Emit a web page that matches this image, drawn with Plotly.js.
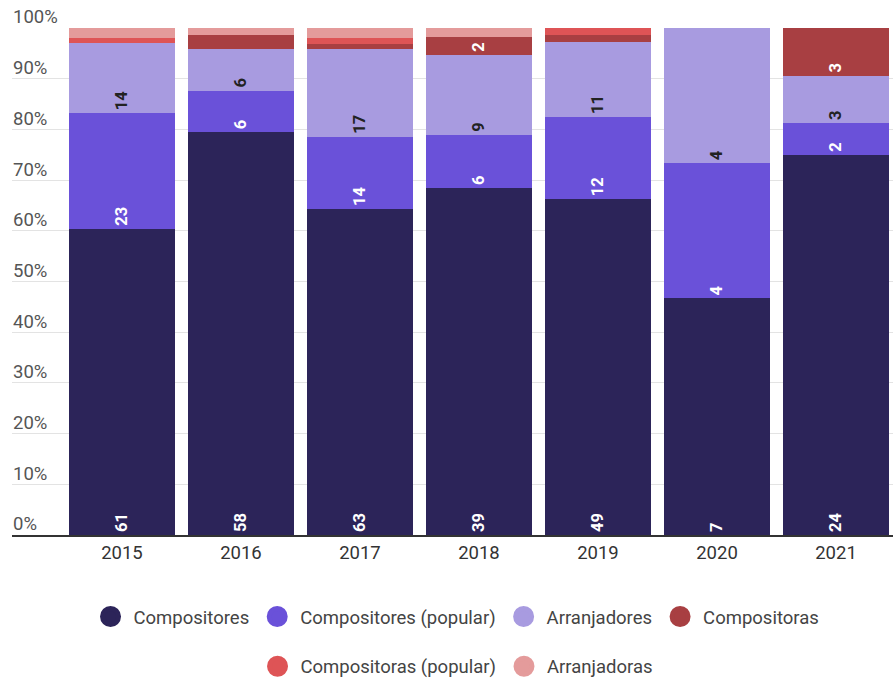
<!DOCTYPE html>
<html>
<head>
<meta charset="utf-8">
<script src="https://cdn.plot.ly/plotly-3.0.1.min.js"></script>
<style>html,body{margin:0;padding:0;background:#fff;}#chart{width:893px;height:681px;}</style>
</head>
<body>
<div id="chart"></div>
<script>
const years = ['2015','2016','2017','2018','2019','2020','2021'];
const seriesNames = ['Compositores','Compositores (popular)','Arranjadores','Compositoras','Compositoras (popular)','Arranjadoras'];
const compositores = [61,58,63,39,49,7,24];
const compositoresPopular = [23,6,14,6,12,4,2];
const arranjadores = [14,6,17,9,11,4,3];
const compositoras = [0,2,1,2,1,0,3];
const compositorasPopular = [1,0,1,0,1,0,0];
const arranjadoras = [2,1,2,1,0,0,0];
const yTicks = [0,10,20,30,40,50,60,70,80,90,100];

const colors = ['#2c2459','#6a51d9','#a89be0','#a83f42','#de5456','#e49b9b'];
const textColors = ['#ffffff','#ffffff','#222222','#ffffff','#ffffff','#222222'];
const series = [compositores, compositoresPopular, arranjadores, compositoras, compositorasPopular, arranjadoras];
const totals = years.map((_, i) => series.reduce((s, arr) => s + arr[i], 0));

const traces = [];
series.forEach((vals, k) => {
  traces.push({
    type: 'bar',
    x: years,
    y: vals,
    name: seriesNames[k],
    marker: {color: colors[k]},
    text: vals.map((v, i) => (v > 0 && v / totals[i] >= 0.03) ? String(v) : ''),
    textposition: 'inside',
    insidetextanchor: 'start',
    textangle: -90,
    constraintext: 'none',
    insidetextfont: {family: 'Roboto', size: 16.5, color: textColors[k], weight: 'bold'},
    showlegend: false,
    hoverinfo: 'skip'
  });
});
series.forEach((vals, k) => {
  traces.push({
    type: 'scatter',
    mode: 'markers',
    x: [years[0]],
    y: [null],
    name: seriesNames[k],
    marker: {color: colors[k], size: 16, symbol: 'circle', line: {color: colors[k], width: 5}},
    showlegend: true,
    legend: k < 4 ? 'legend' : 'legend2',
    hoverinfo: 'skip'
  });
});

const legendBase = {
  orientation: 'h', xanchor: 'center', x: 0.504, yanchor: 'middle', yref: 'container',
  itemwidth: 36,
  font: {family: 'Roboto', size: 18.5, color: '#444'},
  bgcolor: 'rgba(0,0,0,0)', traceorder: 'normal', itemclick: false
};

const layout = {
  width: 893, height: 681,
  margin: {l: 12, r: 0, t: 28, b: 146},
  paper_bgcolor: '#fff', plot_bgcolor: '#fff',
  barmode: 'stack', barnorm: 'percent', bargap: 0.11,
  font: {family: 'Roboto'},
  xaxis: {
    type: 'category', range: [-0.924, 6.479], fixedrange: true,
    showgrid: false, showline: true, linecolor: '#333', linewidth: 2,
    ticks: '', tickfont: {family: 'Roboto', size: 18.5, color: '#333'}
  },
  yaxis: {
    range: [0, 100], tickvals: yTicks, ticktext: yTicks.map(v => v + '%'),
    showgrid: true, gridcolor: '#e3e3e3', gridwidth: 1, zeroline: false,
    ticks: '', ticklabelposition: 'inside', ticklabelshift: -11, ticklabelstandoff: -2,
    ticklabeloverflow: 'allow',
    tickfont: {family: 'Roboto', size: 18.5, color: '#555'}, fixedrange: true
  },
  legend: Object.assign({}, legendBase, {y: 0.094}),
  legend2: Object.assign({}, legendBase, {y: 0.021}),
  showlegend: true
};

Plotly.newPlot('chart', traces, layout, {displayModeBar: false, staticPlot: true});
</script>
</body>
</html>
